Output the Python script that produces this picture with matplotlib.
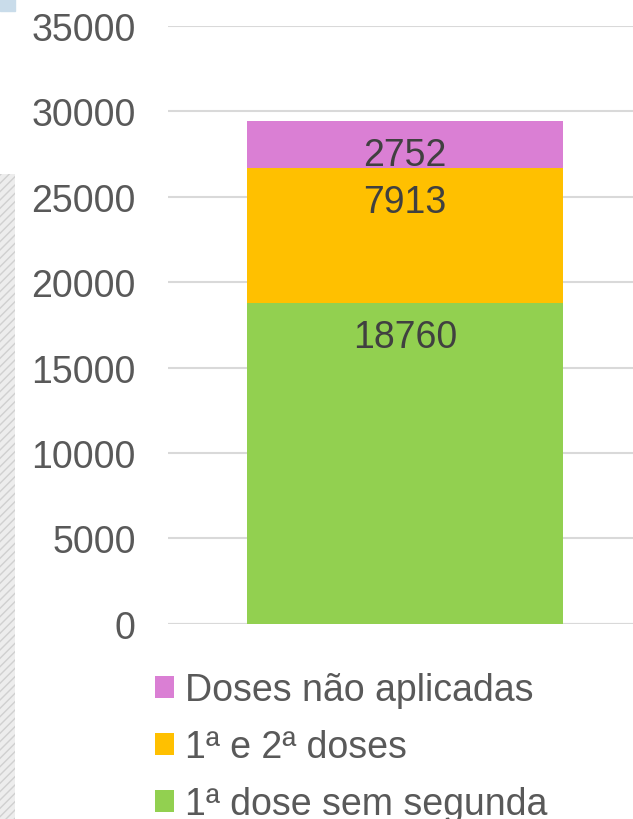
import matplotlib.pyplot as plt
from matplotlib.patches import Rectangle

plt.rcParams['font.family'] = ['Liberation Sans', 'DejaVu Sans']

series = ['1ª dose sem segunda', '1ª e 2ª doses', 'Doses não aplicadas']
values = [18760, 7913, 2752]
colors = ['#92D050', '#FFC000', '#DA7FD4']
yticks = [0, 5000, 10000, 15000, 20000, 25000, 30000, 35000]

fig = plt.figure(figsize=(6.33, 8.2), dpi=100)
ax = fig.add_axes([0.265, 0.238, 0.735, 0.729])

# decorative slide remnants on the left edge
fig.patches.append(Rectangle((0, 0.985), 0.024, 0.015, transform=fig.transFigure,
                             color='#C9DCEA', zorder=0))
fig.patches.append(Rectangle((0, 0), 0.024, 0.787, transform=fig.transFigure,
                             facecolor='#EDEDED', edgecolor='#D0D0D0', hatch='////',
                             lw=0, zorder=0))

bottom = 0
handles = []
for name, v, c in zip(series, values, colors):
    b = ax.bar(0, v, bottom=bottom, width=0.68, color=c, label=name, zorder=2)
    handles.append(b)
    ax.annotate(str(v), (0, bottom + v), xytext=(0, -24), textcoords='offset points',
                ha='center', va='center', fontsize=27, color='#404040', zorder=3)
    bottom += v

ax.set_xlim(-0.51, 0.49)
ax.set_ylim(0, 35000)
ax.set_yticks(yticks)
ax.set_yticklabels([str(t) for t in yticks])
ax.tick_params(axis='y', length=0, pad=23, labelsize=27, labelcolor='#595959')
ax.set_xticks([])
for s in ax.spines.values():
    s.set_visible(False)
ax.grid(axis='y', color='#D9D9D9', lw=1.5, zorder=0)
ax.axhline(0, color='#D9D9D9', lw=1.5, zorder=1)

leg = fig.legend(handles[::-1], series[::-1], loc='upper left',
                 bbox_to_anchor=(0.245, 0.179), frameon=False, fontsize=27,
                 handlelength=0.5, handleheight=0.5, handletextpad=0.3,
                 labelspacing=0.56, borderaxespad=0, borderpad=0)
for t in leg.get_texts():
    t.set_color('#595959')

fig.savefig('out.png', dpi=100)
